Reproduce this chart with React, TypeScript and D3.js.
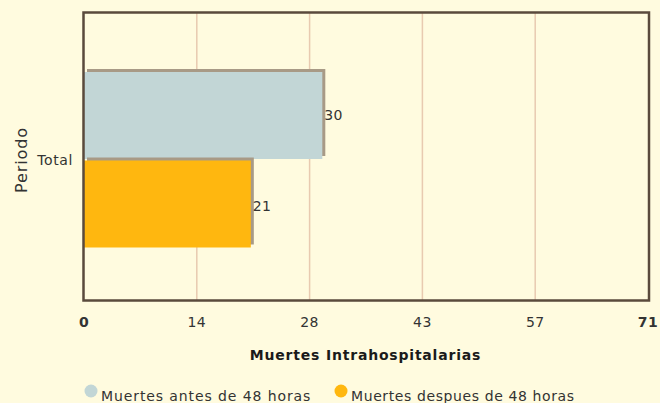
import React from "react";
import * as d3 from "d3";

const categories = ["Total"];
const seriesNames = ["Muertes antes de 48 horas", "Muertes despues de 48 horas"];
const seriesValues = [[30], [21]];
const seriesColors = ["#c2d6d6", "#ffb70f"];
const tickValues = [0, 14.2, 28.4, 42.6, 56.8, 71];
const tickLabels = ["0", "14", "28", "43", "57", "71"];
const xTitle = "Muertes Intrahospitalarias";
const yTitle = "Periodo";

const W = 660, H = 403;
const left = 84, right = 648, top = 12, bottom = 300;
const font = "DejaVu Sans, Verdana, sans-serif";

export default function App() {
  const x = d3.scaleLinear().domain([0, 71]).range([left, right]);
  const y0 = d3.scaleBand().domain(categories).range([top, bottom]).paddingInner(0).paddingOuter(0.3136);
  const y1 = d3.scaleBand().domain(seriesNames).range([0, y0.bandwidth()]).padding(0);
  const shadow = "#a89a86";
  return (
    <svg width={W} height={H} style={{ position: "absolute", left: 0, top: 0 }}>
      <rect x={0} y={0} width={W} height={H} fill="#fffbdf" />
      {tickValues.slice(1, -1).map((t, i) => (
        <line key={i} x1={x(t)} x2={x(t)} y1={top} y2={bottom} stroke="#e8cab0" strokeWidth={1.5} />
      ))}
      {categories.map((c, ci) =>
        seriesNames.map((s, si) => {
          const yy = (y0(c) as number) + (y1(s) as number) + 4.5;
          const h = y1.bandwidth() - 1.5;
          const v = seriesValues[si][ci];
          return (
            <g key={s}>
              <rect x={x(0) + 3} y={yy - 3} width={x(v) - x(0)} height={h} fill={shadow} />
              <rect x={x(0)} y={yy} width={x(v) - x(0)} height={h} fill={seriesColors[si]} />
              <text x={x(v) + 2} y={yy + h / 2 + si * 2} dy="0.35em" fontFamily={font} fontSize={14} letterSpacing={0.4} fill="#333">{v}</text>
            </g>
          );
        })
      )}
      <rect x={left - 0.5} y={top + 0.5} width={right - left + 1.5} height={bottom - top} fill="none" stroke="#5a4a3c" strokeWidth={2.5} />
      {tickValues.map((t, i) => (
        <text key={i} x={x(t)} y={327} textAnchor="middle" fontFamily={font} fontSize={14} letterSpacing={0.4}
          fontWeight={i === 0 || i === tickValues.length - 1 ? "bold" : "normal"} fill="#333">{tickLabels[i]}</text>
      ))}
      {categories.map((c) => (
        <text key={c} x={73} y={165} textAnchor="end" fontFamily={font} fontSize={14} letterSpacing={0.6} fill="#333">{c}</text>
      ))}
      <text x={365.5} y={360} textAnchor="middle" fontFamily={font} fontSize={14} letterSpacing={0.8} fontWeight="bold" fill="#1a1a1a">{xTitle}</text>
      <text transform={`translate(27,${160}) rotate(-90)`} textAnchor="middle" fontFamily={font} fontSize={16} letterSpacing={0.9} fill="#333">{yTitle}</text>
      {seriesNames.map((s, i) => {
        const lx = [91, 341][i];
        return (
          <g key={s}>
            <circle cx={lx} cy={391} r={6.5} fill={seriesColors[i]} />
            <text x={lx + 10} y={401} fontFamily={font} fontSize={14} letterSpacing={[0.9, 0.6][i]} fill="#333">{s}</text>
          </g>
        );
      })}
    </svg>
  );
}
